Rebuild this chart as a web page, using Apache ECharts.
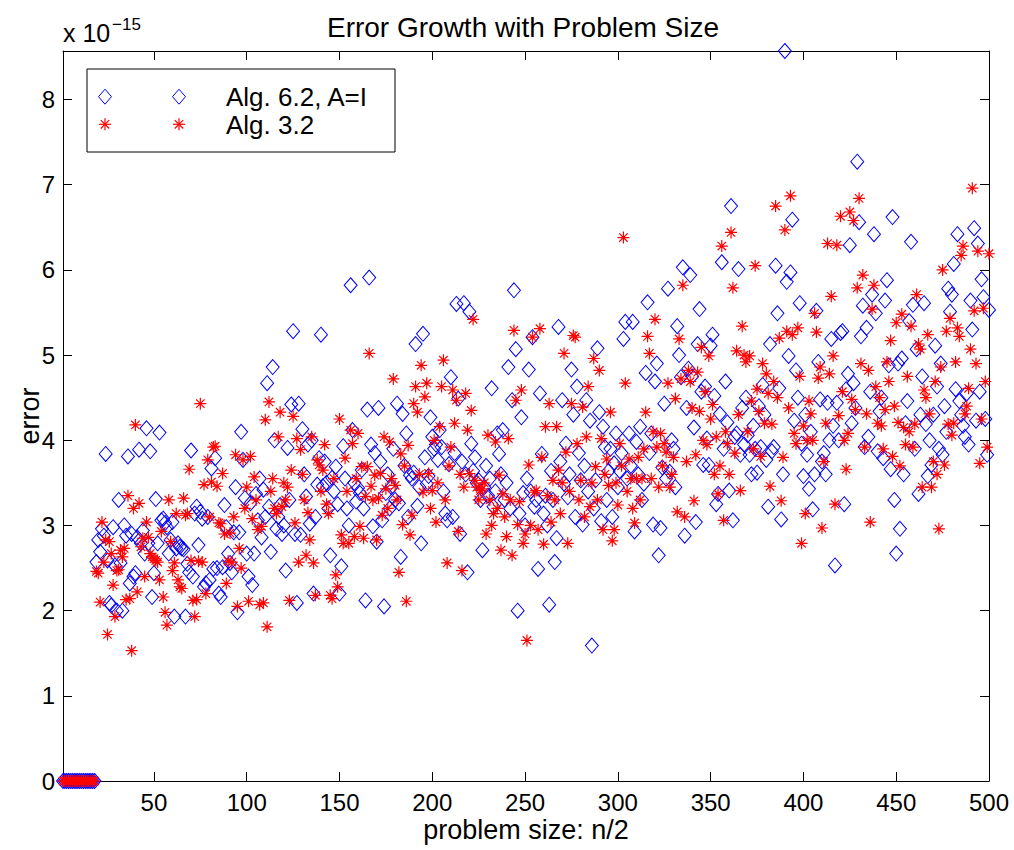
<!DOCTYPE html>
<html>
<head>
<meta charset="utf-8">
<script src="https://cdn.jsdelivr.net/npm/echarts@6/dist/echarts.min.js"></script>
<style>html,body{margin:0;padding:0;background:#fff;}#chart{width:1014px;height:850px;}</style>
</head>
<body>
<div id="chart"></div>
<script>
// ---------- data (n, error / 1e-15) ----------
const xTicks = [50,100,150,200,250,300,350,400,450,500];
const yTicks = [0,1,2,3,4,5,6,7,8];

const alg62A = [[1,0],[2,0],[3,0],[4,0],[5,0],[6,0],[7,0],[8,0],[9,0],[10,0],[11,0],[12,0],[13,0],[14,0],[15,0],[16,0],[17,0],[18,0],
[19,2.57],[20,2.83],[21,2.69],[22,2.96],[23,2.88],[24,3.84],[25,2.59],[26,2.09],[27,2.06],[28,2.98],[29,2.53],[30,2.0],[31,3.3],[32,2.56],[33,2.0],[34,3.0],[35,2.88],[36,3.81],[37,2.32],[38,2.9],[39,2.4],[40,2.44],[41,2.86],[42,3.89],[43,2.79],[44,2.94],[45,2.67],[46,4.14],[47,2.79],[48,3.87],[49,2.16],[50,2.44],[51,3.31],[52,2.79],[53,4.09],[54,3.06],[55,3.08],[56,3.03],[57,2.98],[58,2.67],[59,2.83],[60,3.04],[61,1.93],[62,2.73],[63,2.79],[64,2.75],[65,2.73],[66,2.72],[67,1.93],[68,2.55],[69,2.45],[70,3.88],[71,2.4],[72,3.14],[73,3.22],[74,2.77],[75,3.16],[76,3.08],[77,2.28],[78,2.32],[79,3.1],[80,2.36],[81,3.67],[82,2.49],[83,3.79],[84,2.5],[85,2.2],[86,2.16],[87,2.51],[88,3.24],[89,2.98],[90,2.67],[91,2.56],[92,2.45],[93,2.92],[94,3.45],[95,1.98],[96,2.92],[97,4.1],[98,3.77],[99,3.32],[100,2.67],[101,2.4],[102,3.26],[103,2.3],[104,2.67],[105,3.37],[106,3.06],[107,3.55],[108,2.86],[109,3.42],[110,3.1],[111,4.67],[112,3.22],[113,2.69],[114,4.86],[115,4.0],[116,2.96],[117,3.1],[118,3.24],[119,2.9],[120,3.0],[121,2.47],[122,3.91],[123,3.3],[124,4.42],[125,5.28],[126,2.9],[127,2.09],[128,4.43],[129,2.89],[130,4.13],[131,3.6],[132,3.34],[133,3.95],[134,3.02],[135,4.0],[136,2.2],[137,3.1],[138,3.48],[139,3.79],[140,5.24],[141,3.46],[142,3.75],[143,3.5],[144,3.2],[145,2.65],[146,3.56],[147,3.4],[148,3.69],[149,3.25],[150,2.2],[151,2.52],[152,3.93],[153,3.55],[154,3.2],[155,3.0],[156,5.82],[157,4.12],[158,3.5],[159,3.28],[160,3.44],[161,3.38],[162,3.65],[163,3.2],[164,2.12],[165,4.36],[166,5.91],[167,3.95],[168,2.99],[169,3.85]];

const alg62B = [[170,2.81],[171,4.38],[172,3.75],[173,3.06],[174,2.05],[175,3.38],[176,3.6],[177,3.2],[178,3.45],[179,3.9],[180,3.3],[181,4.43],[182,3.26],[183,2.63],[184,4.31],[185,3.7],[186,4.08],[187,3.1],[188,3.59],[189,3.55],[190,3.62],[191,5.13],[192,3.23],[193,3.45],[194,2.79],[195,5.25],[196,3.8],[197,3.49],[198,3.58],[199,4.27],[200,4.04],[201,3.9],[202,3.95],[203,3.77],[204,4.12],[205,3.92],[206,3.4],[207,3.14],[208,3.06],[209,3.72],[210,4.74],[211,3.1],[212,3.85],[213,5.6],[214,4.49],[215,2.9],[216,3.75],[217,5.61],[218,3.6],[219,2.45],[220,5.51],[221,3.96],[222,3.64],[223,3.8],[224,3.5],[225,3.53],[226,3.3],[227,2.71],[228,3.45],[229,3.7],[230,3.35],[231,3.55],[232,4.61],[233,3.22],[234,3.4],[235,4.08],[236,3.84],[237,3.6],[238,4.12],[239,3.3],[240,3.5],[241,4.86],[242,3.2],[243,4.47],[244,5.76],[245,5.07],[246,2.0],[247,3.14],[248,4.27],[249,3.38],[250,3.0],[251,3.55],[252,4.83],[253,3.4],[254,5.21],[255,3.22],[256,3.3],[257,2.49],[258,4.55],[259,3.84],[260,3.14],[261,3.35],[262,3.0],[263,2.07],[264,3.64],[265,3.3],[266,2.57],[267,2.85],[268,5.33],[269,3.75],[270,4.47],[271,3.49],[272,3.96],[273,3.33],[274,3.6],[275,4.83],[276,4.3],[277,3.1],[278,4.63],[279,3.85],[280,3.53],[281,3.01],[282,3.7],[283,4.47],[284,3.4],[285,4.23],[286,1.59],[287,3.2],[288,3.53],[289,5.08],[290,4.33],[291,3.05],[292,4.16],[293,3.92],[294,3.3],[295,3.64],[296,3.9],[297,3.1],[298,3.73],[299,4.08],[300,3.45],[301,3.64],[302,3.85],[303,5.19],[304,5.39],[305,3.55],[306,4.08],[307,3.7],[308,5.39],[309,2.93],[310,3.98],[311,3.6],[312,4.16],[313,3.3],[314,3.49],[315,4.79],[316,5.62],[317,3.85],[318,4.08],[319,3.01],[320,4.69],[321,4.9],[322,2.65],[323,2.97],[324,3.68],[325,4.43],[326,3.55],[327,5.78],[328,3.63],[329,4.0],[330,3.9],[331,3.45],[332,5.34],[333,5.0],[334,4.74]];

const alg62C = [[335,6.03],[336,2.88],[337,4.38],[338,4.84],[339,5.94],[340,4.75],[341,4.15],[342,3.04],[343,5.13],[344,5.54],[345,4.57],[346,3.71],[347,4.63],[348,4.02],[349,3.71],[350,5.11],[351,5.24],[352,4.52],[353,3.25],[354,3.37],[355,4.31],[356,6.09],[357,3.9],[358,4.69],[359,4.21],[360,3.41],[361,6.75],[362,3.06],[363,4.04],[364,4.08],[365,6.01],[366,3.83],[367,4.38],[368,3.95],[369,4.5],[370,4.06],[371,3.83],[372,3.6],[373,4.17],[374,3.9],[375,3.62],[376,4.4],[377,3.92],[378,4.65],[379,4.3],[380,3.77],[381,3.22],[382,5.13],[383,3.87],[384,3.92],[385,6.05],[386,5.49],[387,4.61],[388,3.07],[389,3.6],[390,8.57],[391,5.86],[392,4.99],[393,5.97],[394,6.59],[395,4.23],[396,4.82],[397,4.5],[398,5.61],[399,3.96],[400,3.58],[401,4.3],[402,3.83],[403,3.43],[404,4.1],[405,3.19],[406,3.6],[407,5.52],[408,4.92],[409,4.48],[410,3.75],[411,3.85],[412,3.6],[413,4.44],[414,4.0],[415,5.19],[416,4.17],[417,2.53],[418,4.44],[419,4.0],[420,5.26],[421,5.28],[422,3.25],[423,4.6],[424,4.78],[425,6.29],[426,4.2],[427,4.67],[428,4.38],[429,7.27],[430,6.56],[431,5.22],[432,5.58],[433,3.92],[434,5.32],[435,4.04],[436,4.57],[437,5.71],[438,6.42],[439,5.49],[440,3.87],[441,4.34],[442,4.5],[443,3.79],[444,5.64],[445,5.88],[446,4.88],[447,3.66],[448,6.62],[449,3.3],[450,2.67],[451,4.9],[452,2.96],[453,4.96],[454,3.6],[455,4.2],[456,4.46],[457,5.4],[458,6.33],[459,5.59],[460,3.9],[461,5.07],[462,3.37],[463,4.3],[464,4.75],[465,5.61],[466,4.19],[467,3.58],[468,4.0],[469,3.71],[470,4.3],[471,5.11],[472,4.63],[473,3.9],[474,4.9],[475,3.83],[476,4.4],[477,4.1],[478,5.78],[479,5.51],[480,5.71],[481,6.07],[482,4.6],[483,6.42],[484,4.46],[485,4.3],[486,4.17],[487,4.04],[488,4.55],[489,3.95],[490,5.64],[491,5.3],[492,6.49],[493,4.23],[494,6.31],[495,4.57],[496,5.89],[497,5.68],[498,4.25],[499,3.83],[500,5.53]];

const alg32A = [[1,0],[2,0],[3,0],[4,0],[5,0],[6,0],[7,0],[8,0],[9,0],[10,0],[11,0],[12,0],[13,0],[14,0],[15,0],[16,0],[17,0],[18,0],
[19,2.46],[20,2.44],[21,2.1],[22,3.04],[23,2.57],[24,2.83],[25,1.72],[26,2.81],[27,2.67],[28,2.3],[29,1.93],[30,2.47],[31,2.48],[32,2.71],[33,2.63],[34,2.73],[35,2.13],[36,3.35],[37,2.14],[38,1.53],[39,3.2],[40,4.18],[41,2.22],[42,3.26],[43,2.75],[44,2.85],[45,2.4],[46,3.04],[47,2.86],[48,2.67],[49,2.63],[50,2.61],[51,2.59],[52,2.57],[53,2.36],[54,2.93],[55,2.16],[56,1.98],[57,1.83],[58,3.3],[59,2.81],[60,2.47],[61,2.56],[62,3.14],[63,2.36],[64,2.28],[65,2.26],[66,3.32],[67,3.12],[68,3.14],[69,3.66],[70,2.59],[71,2.12],[72,1.93],[73,2.13],[74,2.58],[75,4.43],[76,2.57],[77,3.48],[78,2.2],[79,3.77],[80,3.1],[81,3.51],[82,3.92],[83,3.93],[84,3.46],[85,3.03],[86,3.02],[87,3.61],[88,2.9],[89,2.32],[90,2.58],[91,2.91],[92,2.57],[93,3.1],[94,3.83],[95,2.05],[96,2.73],[97,2.5],[98,3.77],[99,3.2],[100,3.45],[101,2.11],[102,3.81],[103,3.08],[104,3.57],[105,3.3],[106,2.95],[107,2.07],[108,2.99],[109,2.09],[110,4.24],[111,1.81],[112,4.45],[113,3.4],[114,3.55],[115,3.2],[116,3.14],[117,4.04],[118,4.33],[119,3.22],[120,3.5],[121,3.3],[122,3.45],[123,2.12],[124,3.65],[125,4.28],[126,3.03],[127,4.02],[128,2.57],[129,3.89],[130,3.6],[131,3.3],[132,2.65],[133,3.15],[134,2.83],[135,4.04],[136,2.56],[137,2.18],[138,3.77],[139,3.71],[140,3.4],[141,3.65],[142,3.95],[143,3.25],[144,3.14],[145,2.18],[146,2.14],[147,3.55],[148,2.42],[149,2.28],[150,4.25],[151,2.89],[152,2.79],[153,3.79],[154,3.4],[155,2.79],[156,4.12],[157,3.96],[158,2.87],[159,3.55],[160,4.08],[161,2.99],[162,3.69],[163,2.85],[164,3.34],[165,3.69],[166,5.02],[167,3.46],[168,3.3],[169,3.59]];

const alg32B = [[170,2.83],[171,3.32],[172,3.61],[173,3.12],[174,4.04],[175,3.43],[176,3.2],[177,3.98],[178,3.55],[179,4.72],[180,3.47],[181,3.3],[182,2.45],[183,3.84],[184,3.01],[185,3.7],[186,2.11],[187,3.94],[188,2.89],[189,3.12],[190,4.43],[191,4.63],[192,4.33],[193,3.6],[194,4.88],[195,3.39],[196,4.51],[197,4.67],[198,3.61],[199,3.2],[200,3.41],[201,4.0],[202,3.04],[203,3.5],[204,4.16],[205,4.63],[206,4.94],[207,3.3],[208,2.56],[209,3.7],[210,3.92],[211,4.59],[212,4.2],[213,4.47],[214,2.93],[215,3.6],[216,2.47],[217,3.45],[218,4.55],[219,4.12],[220,3.61],[221,4.35],[222,5.42],[223,3.53],[224,3.45],[225,3.3],[226,3.41],[227,3.43],[228,3.5],[229,2.9],[230,4.06],[231,3.3],[232,3.0],[233,3.14],[234,3.98],[235,3.2],[236,3.59],[237,2.71],[238,3.37],[239,3.1],[240,2.87],[241,4.02],[242,3.3],[243,2.65],[244,5.29],[245,4.47],[246,3.01],[247,3.28],[248,4.59],[249,2.79],[250,2.9],[251,1.65],[252,3.71],[253,3.0],[254,5.21],[255,3.39],[256,3.41],[257,2.95],[258,5.31],[259,3.8],[260,2.78],[261,4.16],[262,3.35],[263,4.43],[264,3.04],[265,3.53],[266,3.3],[267,4.16],[268,3.65],[269,3.14],[270,3.5],[271,5.02],[272,3.86],[273,2.79],[274,3.4],[275,4.43],[276,5.23],[277,5.21],[278,3.96],[279,3.3],[280,3.53],[281,4.39],[282,3.1],[283,4.04],[284,4.63],[285,3.22],[286,3.5],[287,4.96],[288,3.69],[289,3.3],[290,4.82],[291,4.02],[292,2.95],[293,3.6],[294,3.78],[295,3.47],[296,4.33],[297,2.82],[298,2.95],[299,3.5],[300,3.24],[301,3.96],[302,3.7],[303,6.38],[304,4.67],[305,3.4],[306,3.78],[307,3.55],[308,3.2],[309,3.03],[310,3.55],[311,3.8],[312,3.3],[313,3.55],[314,3.9],[315,4.33],[316,5.22],[317,5.02],[318,3.55],[319,4.1],[320,5.42],[321,3.92],[322,3.45],[323,4.08],[324,3.7],[325,3.96],[326,3.86],[327,4.67],[328,3.45],[329,3.6],[330,3.8],[331,4.49],[332,3.16],[333,5.19],[334,4.72]];

const alg32C = [[335,5.82],[336,3.1],[337,3.75],[338,4.82],[339,4.69],[340,4.38],[341,3.29],[342,3.83],[343,4.8],[344,4.34],[345,5.09],[346,4.0],[347,4.57],[348,3.95],[349,4.99],[350,4.25],[351,4.42],[352,3.6],[353,4.04],[354,3.37],[355,3.7],[356,6.28],[357,3.06],[358,4.1],[359,3.96],[360,3.6],[361,6.44],[362,5.79],[363,3.85],[364,5.05],[365,4.3],[366,3.41],[367,5.34],[368,5.0],[369,4.92],[370,4.1],[371,4.99],[372,4.46],[373,3.9],[374,6.05],[375,4.6],[376,4.34],[377,3.81],[378,4.9],[379,4.2],[380,4.78],[381,4.55],[382,3.46],[383,4.19],[384,4.69],[385,6.75],[386,4.5],[387,5.2],[388,3.29],[389,3.8],[390,6.47],[391,5.28],[392,4.38],[393,6.87],[394,5.24],[395,4.08],[396,3.96],[397,5.32],[398,4.75],[399,2.79],[400,4.17],[401,3.14],[402,4.0],[403,4.46],[404,4.31],[405,4.0],[406,5.49],[407,5.27],[408,4.73],[409,4.86],[410,2.97],[411,3.75],[412,4.2],[413,6.31],[414,4.78],[415,5.69],[416,4.99],[417,3.25],[418,6.29],[419,4.29],[420,6.63],[421,4.57],[422,4.0],[423,3.66],[424,4.08],[425,6.68],[426,4.48],[427,6.58],[428,4.36],[429,5.79],[430,6.84],[431,4.9],[432,5.94],[433,3.92],[434,4.31],[435,4.82],[436,3.04],[437,5.54],[438,5.82],[439,4.63],[440,4.2],[441,4.5],[442,4.17],[443,3.9],[444,4.36],[445,4.92],[446,4.69],[447,5.17],[448,3.81],[449,4.4],[450,5.38],[451,4.21],[452,3.7],[453,5.48],[454,4.15],[455,3.95],[456,4.75],[457,4.1],[458,5.34],[459,3.92],[460,4.19],[461,5.71],[462,5.13],[463,5.07],[464,3.45],[465,4.59],[466,4.5],[467,5.24],[468,4.31],[469,3.45],[470,3.75],[471,4.69],[472,3.6],[473,2.96],[474,4.86],[475,6.0],[476,3.71],[477,5.28],[478,4.19],[479,5.43],[480,4.06],[481,4.2],[482,4.92],[483,5.32],[484,5.22],[485,6.17],[486,6.28],[487,4.31],[488,4.4],[489,4.61],[490,5.07],[491,6.96],[492,5.52],[493,4.9],[494,6.22],[495,3.73],[496,4.25],[497,5.55],[498,4.69],[499,3.92],[500,6.19]];

const seriesNames = ['Alg. 6.2, A=I', 'Alg. 3.2'];

// ---------- styling ----------
const FONT = 'Liberation Sans, Arial, Helvetica, sans-serif';
const BLUE = '#0000ff', RED = '#ff0000';
const STAR = 'path://M0,6L12,6M6,0L6,12M1.8,1.8L10.2,10.2M1.8,10.2L10.2,1.8';

const G = {left: 63, top: 51, width: 926, height: 730};

function xAx(pos, showLabel) {
  return {
    type: 'value', min: 1, max: 500, position: pos,
    axisLine: {show: true, onZero: false, lineStyle: {color: '#000', width: 1}},
    axisTick: {show: true, inside: true, length: 9, customValues: xTicks, lineStyle: {color: '#000', width: 1}},
    axisLabel: {show: showLabel, customValues: xTicks, fontSize: 24, color: '#000', fontFamily: FONT, margin: 9},
    splitLine: {show: false}
  };
}
function yAx(pos, showLabel) {
  return {
    type: 'value', min: 0, max: 8.57, position: pos,
    axisLine: {show: true, onZero: false, lineStyle: {color: '#000', width: 1}},
    axisTick: {show: true, inside: true, length: 9, customValues: yTicks, lineStyle: {color: '#000', width: 1}},
    axisLabel: {show: showLabel, customValues: yTicks, fontSize: 24, color: '#000', fontFamily: FONT, margin: 8},
    splitLine: {show: false}
  };
}

function starLines(cx, cy, r, color) {
  const d = r * 0.7;
  const segs = [[-r,0,r,0],[0,-r,0,r],[-d,-d,d,d],[-d,d,d,-d]];
  return segs.map(s => ({type: 'line', z: 101, shape: {x1: cx+s[0], y1: cy+s[1], x2: cx+s[2], y2: cy+s[3]}, style: {stroke: color, lineWidth: 1.2}}));
}
function diamond(cx, cy, w, h, color) {
  return {type: 'polygon', z: 101, shape: {points: [[cx, cy-h/2],[cx+w/2, cy],[cx, cy+h/2],[cx-w/2, cy]]}, style: {fill: null, stroke: color, lineWidth: 1}};
}

const graphics = [
  {type: 'text', x: 523, y: 27, style: {text: 'Error Growth with Problem Size', fontSize: 28, fontFamily: FONT, fill: '#000', align: 'center', verticalAlign: 'middle'}},
  {type: 'text', x: 526, y: 830, style: {text: 'problem size: n/2', fontSize: 27, fontFamily: FONT, fill: '#000', align: 'center', verticalAlign: 'middle'}},
  {type: 'text', x: 30, y: 416, rotation: Math.PI/2, style: {text: 'error', fontSize: 27, fontFamily: FONT, fill: '#000', align: 'center', verticalAlign: 'middle'}},
  {type: 'text', x: 63, y: 33, style: {text: 'x 10', fontSize: 25, fontFamily: FONT, fill: '#000', align: 'left', verticalAlign: 'middle'}},
  {type: 'text', x: 112, y: 24, style: {text: '\u221215', fontSize: 17, fontFamily: FONT, fill: '#000', align: 'left', verticalAlign: 'middle'}},
  {type: 'rect', z: 100, shape: {x: 87, y: 69, width: 308, height: 83}, style: {fill: '#fff', stroke: '#000', lineWidth: 1}},
  diamond(105, 96.7, 13, 15, BLUE), diamond(179, 96.7, 13, 15, BLUE),
  ...starLines(105, 124.3, 6, RED), ...starLines(179, 124.3, 6, RED),
  {type: 'text', z: 101, x: 226, y: 97, style: {text: seriesNames[0], fontSize: 26, fontFamily: FONT, fill: '#000', align: 'left', verticalAlign: 'middle'}},
  {type: 'text', z: 101, x: 226, y: 125, style: {text: seriesNames[1], fontSize: 26, fontFamily: FONT, fill: '#000', align: 'left', verticalAlign: 'middle'}}
];

const chart = echarts.init(document.getElementById('chart'), null, {renderer: 'svg'});
chart.setOption({
  animation: false,
  backgroundColor: '#fff',
  grid: G,
  xAxis: [xAx('bottom', true), xAx('top', false)],
  yAxis: [yAx('left', true), yAx('right', false)],
  series: [
    {
      name: seriesNames[0], type: 'scatter', xAxisIndex: 0, yAxisIndex: 0,
      data: alg62A.concat(alg62B, alg62C),
      symbol: 'diamond', symbolSize: [13, 15], clip: false,
      itemStyle: {color: 'rgba(0,0,0,0)', borderColor: BLUE, borderWidth: 1, opacity: 1},
      emphasis: {disabled: true}, z: 2
    },
    {
      name: seriesNames[1], type: 'scatter', xAxisIndex: 0, yAxisIndex: 0,
      data: alg32A.concat(alg32B, alg32C),
      symbol: STAR, symbolSize: 12, clip: false,
      itemStyle: {color: 'rgba(0,0,0,0)', borderColor: RED, borderWidth: 1.2, opacity: 1},
      emphasis: {disabled: true}, z: 3
    }
  ],
  graphic: graphics
});
</script>
</body>
</html>
